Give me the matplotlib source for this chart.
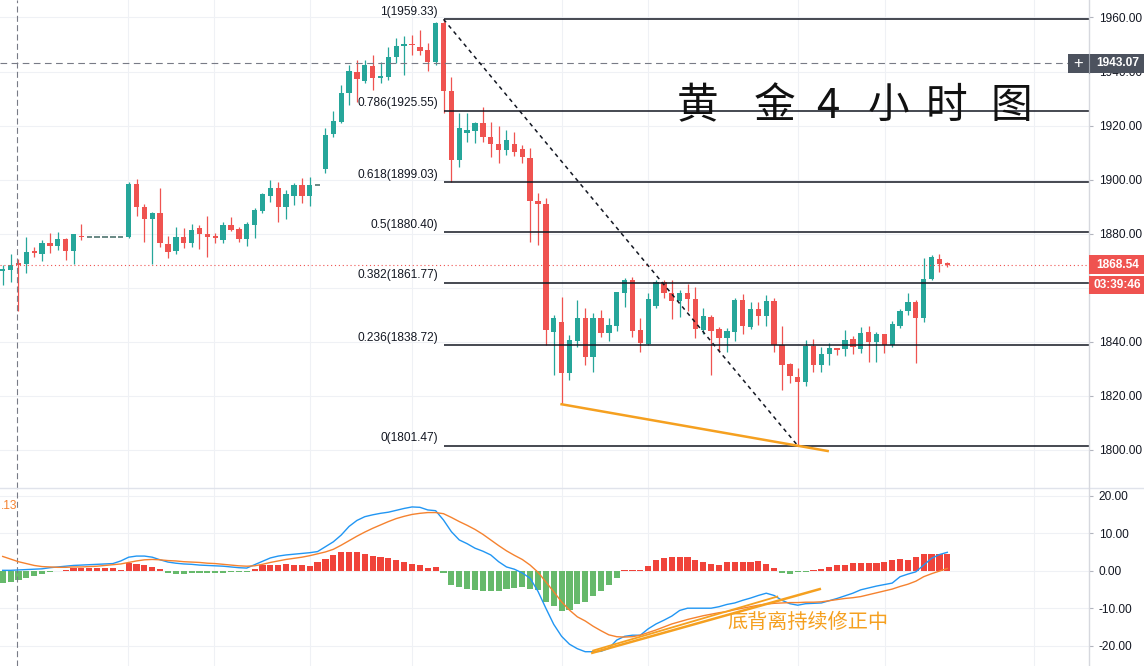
import matplotlib.pyplot as plt
from matplotlib.patches import Rectangle
from matplotlib.lines import Line2D
from matplotlib.ticker import FuncFormatter, FormatStrFormatter
from matplotlib.transforms import blended_transform_factory

plt.rcParams['font.family'] = ['Liberation Sans', 'Noto Sans CJK SC', 'DejaVu Sans']

# ---- 4h gold candles ----
opens = [1866.0, 1866.4, 1869.0, 1868.6, 1873.5, 1872.3, 1876.6, 1875.5, 1877.9, 1873.7,
         1879.2, 1878.6, 1878.6, 1878.6, 1878.6, 1878.6, 1878.8, 1898.3, 1890.0, 1885.3,
         1887.5, 1876.3, 1873.5, 1878.6, 1876.6, 1881.9, 1879.7, 1879.1, 1877.6, 1883.2,
         1881.7, 1878.0, 1883.2, 1888.5, 1893.9, 1896.8, 1890.0, 1894.0, 1897.9, 1894.0,
         1897.9, 1903.8, 1916.8, 1921.4, 1931.9, 1939.7, 1936.6, 1942.0, 1937.5, 1938.1,
         1945.5, 1949.4, 1950.1, 1948.9, 1948.0, 1943.6, 1958.1, 1932.9, 1907.2, 1917.3,
         1918.1, 1920.8, 1915.6, 1913.2, 1911.0, 1913.2, 1911.2, 1907.9, 1891.9, 1890.8,
         1843.7, 1847.4, 1828.5, 1840.3, 1848.6, 1834.4, 1848.6, 1843.1, 1845.9, 1858.1,
         1862.8, 1844.3, 1839.1, 1853.3, 1862.2, 1858.1, 1855.1, 1857.9, 1855.8, 1844.3,
         1849.2, 1844.7, 1841.2, 1843.7, 1855.4, 1845.5, 1852.0, 1849.6, 1855.1, 1838.7,
         1831.7, 1826.8, 1825.2, 1838.5, 1831.3, 1835.3, 1837.5, 1837.3, 1840.9, 1837.3,
         1843.4, 1840.0, 1842.8, 1838.7, 1845.8, 1851.4, 1854.8, 1848.6, 1863.1, 1870.5,
         1869.0]
highs = [1868.3, 1872.3, 1870.5, 1878.8, 1875.0, 1877.5, 1880.3, 1880.6, 1878.2, 1880.0,
         1883.5, 1878.6, 1878.6, 1878.6, 1878.6, 1878.6, 1899.2, 1900.1, 1890.8, 1888.0,
         1896.8, 1879.1, 1882.5, 1881.9, 1883.5, 1883.0, 1886.5, 1880.1, 1884.4, 1886.3,
         1882.5, 1884.4, 1889.4, 1895.1, 1899.8, 1899.0, 1896.1, 1898.8, 1900.5, 1900.8,
         1897.9, 1919.0, 1925.4, 1935.0, 1942.4, 1944.3, 1944.3, 1946.1, 1943.6, 1949.2,
         1952.3, 1953.1, 1953.5, 1955.4, 1950.4, 1958.3, 1959.33, 1938.1, 1924.5, 1924.8,
         1921.4, 1927.0, 1921.4, 1919.8, 1918.3, 1917.7, 1912.8, 1911.6, 1894.9, 1893.1,
         1849.9, 1856.6, 1842.4, 1855.4, 1852.3, 1850.5, 1851.7, 1848.6, 1858.5, 1863.4,
         1864.0, 1848.6, 1857.9, 1862.8, 1862.8, 1862.8, 1859.1, 1861.3, 1860.1, 1852.3,
         1849.9, 1845.5, 1844.9, 1856.0, 1857.6, 1854.6, 1854.6, 1857.3, 1856.0, 1845.8,
         1832.2, 1830.1, 1840.6, 1840.9, 1838.1, 1839.4, 1837.6, 1844.3, 1842.1, 1845.5,
         1845.8, 1843.7, 1842.8, 1847.6, 1851.9, 1857.9, 1855.4, 1870.8, 1872.1, 1872.3,
         1869.6]
lows = [1861.0, 1862.0, 1851.5, 1865.3, 1871.2, 1870.0, 1872.9, 1874.0, 1870.2, 1868.7,
        1877.6, 1878.6, 1878.6, 1878.6, 1878.6, 1878.6, 1878.2, 1886.6, 1877.0, 1868.6,
        1875.2, 1870.8, 1872.4, 1874.8, 1875.2, 1874.2, 1871.4, 1876.4, 1876.6, 1880.9,
        1877.0, 1875.4, 1878.3, 1887.7, 1891.8, 1884.4, 1885.5, 1890.6, 1891.4, 1890.2,
        1897.9, 1902.3, 1915.8, 1920.8, 1927.6, 1928.8, 1935.6, 1933.2, 1935.6, 1936.8,
        1943.0, 1938.7, 1946.1, 1946.1, 1940.3, 1942.4, 1924.5, 1899.2, 1904.8, 1914.0,
        1913.6, 1914.0, 1908.5, 1906.2, 1909.1, 1908.7, 1906.0, 1877.0, 1875.7, 1838.7,
        1827.6, 1816.8, 1825.8, 1838.1, 1831.3, 1828.9, 1841.6, 1840.3, 1844.0, 1852.9,
        1841.8, 1836.3, 1838.7, 1852.3, 1856.0, 1848.3, 1849.2, 1851.4, 1841.2, 1842.8,
        1827.6, 1836.3, 1836.3, 1840.3, 1842.8, 1844.6, 1846.2, 1845.8, 1836.3, 1822.1,
        1824.8, 1801.47, 1823.6, 1828.9, 1828.9, 1831.3, 1835.0, 1834.7, 1835.4, 1835.9,
        1832.6, 1832.6, 1835.9, 1838.1, 1844.9, 1849.9, 1832.2, 1847.1, 1862.8, 1865.9,
        1867.7]
closes = [1866.8, 1868.5, 1868.2, 1873.3, 1872.8, 1876.4, 1875.5, 1877.9, 1873.7, 1879.8,
          1878.6, 1878.6, 1878.6, 1878.6, 1878.6, 1878.6, 1898.3, 1890.0, 1885.3, 1887.7,
          1876.4, 1873.0, 1878.6, 1876.6, 1881.5, 1879.7, 1878.6, 1878.2, 1883.2, 1881.3,
          1878.0, 1883.5, 1888.7, 1894.6, 1896.8, 1890.0, 1894.6, 1897.9, 1894.0, 1897.9,
          1897.9, 1916.5, 1921.7, 1932.2, 1940.2, 1937.1, 1942.4, 1937.5, 1938.3, 1945.5,
          1949.4, 1950.2, 1949.7, 1947.7, 1943.6, 1958.1, 1932.9, 1907.2, 1919.0, 1918.3,
          1920.8, 1915.6, 1913.0, 1911.0, 1914.6, 1910.3, 1908.2, 1891.9, 1890.8, 1844.3,
          1848.6, 1828.5, 1840.6, 1848.6, 1834.2, 1848.6, 1843.1, 1846.1, 1858.2, 1862.8,
          1844.0, 1839.4, 1855.8, 1862.2, 1858.1, 1855.1, 1858.1, 1855.8, 1844.7, 1849.5,
          1844.0, 1841.2, 1843.9, 1855.4, 1845.9, 1852.0, 1849.6, 1855.1, 1838.7, 1831.3,
          1827.3, 1825.2, 1838.5, 1831.3, 1835.4, 1837.5, 1836.9, 1840.6, 1837.9, 1843.1,
          1840.0, 1842.8, 1838.7, 1846.5, 1851.3, 1854.6, 1848.9, 1863.1, 1871.2, 1868.7,
          1868.54]

# ---- MACD panel ----
macd_line = [0.1, 0.1, 0.2, 0.3, 0.4, 0.5, 0.8, 1.0, 1.2, 1.4,
             1.5, 1.6, 1.7, 1.8, 1.9, 2.6, 3.6, 3.9, 3.9, 3.6,
             2.9, 2.3, 2.0, 1.8, 1.7, 1.5, 1.4, 1.3, 1.2, 1.0,
             0.8, 0.7, 1.6, 2.5, 3.4, 3.9, 4.2, 4.4, 4.6, 4.8,
             5.1, 6.4, 7.7, 9.5, 11.8, 13.4, 14.4, 14.9, 15.3, 15.6,
             16.1, 16.6, 17.0, 16.9, 16.2, 16.0, 13.5, 10.4, 8.2, 7.2,
             6.0, 5.2, 4.2, 2.4, 1.0, 0.4, -0.6, -2.0, -5.5, -10.0,
             -14.3, -17.5, -19.6, -20.8, -21.6, -21.6, -21.5, -20.7, -18.5, -17.5,
             -17.2, -17.2, -15.5, -14.2, -13.2, -12.1, -10.6, -10.0, -10.0, -10.0,
             -10.0, -9.6, -9.0, -8.6, -7.9, -7.3, -6.6, -6.0, -6.6, -7.9,
             -8.8, -9.2, -8.8, -8.7, -8.6, -8.0, -7.4, -6.7, -6.0, -5.1,
             -4.6, -4.1, -3.7, -3.3, -1.6, -0.9, -0.3, 1.5, 3.3, 4.3,
             4.9]
signal_line = [3.8, 3.1, 2.4, 1.9, 1.4, 1.1, 1.0, 0.9, 0.9, 1.0,
               1.0, 1.1, 1.2, 1.4, 1.6, 1.8, 2.2, 2.6, 2.9, 3.0,
               2.9, 2.7, 2.6, 2.4, 2.3, 2.2, 2.0, 1.9, 1.7, 1.5,
               1.3, 1.2, 1.3, 1.7, 2.2, 2.6, 3.0, 3.3, 3.6, 4.0,
               4.5, 5.0, 5.7, 6.8, 8.0, 9.2, 10.3, 11.3, 12.2, 13.1,
               13.9, 14.5, 15.0, 15.3, 15.5, 15.5, 15.2, 14.2, 13.1, 12.1,
               11.0, 9.7, 8.2, 6.7, 5.3, 4.1, 3.0, 1.5, -0.4, -3.0,
               -5.6, -8.3, -10.5, -12.3, -13.4, -14.8, -16.0, -17.1, -17.6, -17.7,
               -17.6, -17.2, -16.5, -15.8, -15.0, -14.2, -13.6, -13.0, -12.5, -12.0,
               -11.6, -11.2, -10.9, -10.4, -10.0, -9.6, -9.2, -8.9, -8.7, -8.6,
               -8.5, -8.5, -8.4, -8.4, -8.3, -8.0, -7.7, -7.4, -7.2, -6.9,
               -6.4, -5.9, -5.4, -4.9, -4.2, -3.6, -2.8, -1.6, -0.8, -0.1,
               0.6]
hist = [-3.4, -2.9, -2.5, -1.9, -1.3, -0.8, -0.4, -0.1, 0.1, 0.6,
        0.6, 0.6, 0.6, 0.6, 0.6, 0.3, 2.0, 1.7, 1.4, 1.0,
        0.4, -0.5, -0.8, -1.0, -0.7, -0.7, -0.7, -0.7, -0.5, -0.4,
        -0.4, -0.3, 0.4, 1.4, 1.4, 1.4, 1.7, 1.5, 1.4, 1.2,
        2.3, 3.1, 4.2, 4.9, 4.9, 4.9, 4.4, 3.9, 3.6, 3.3,
        2.8, 2.2, 1.8, 1.4, 0.8, 0.9, -0.7, -3.8, -4.4, -5.0,
        -5.2, -5.4, -5.4, -5.4, -4.8, -4.5, -4.3, -5.0, -5.2, -8.3,
        -9.3, -10.7, -10.6, -9.0, -8.4, -6.7, -5.3, -3.7, -1.9, 0.3,
        0.3, 0.2, 1.2, 2.8, 3.3, 3.6, 3.7, 3.7, 2.8, 2.4,
        1.8, 1.5, 2.2, 2.2, 2.3, 2.3, 2.6, 1.8, 0.6, -0.5,
        -0.8, -0.4, -0.3, 0.2, 0.5, 0.9, 1.4, 1.4, 2.0, 2.0,
        2.0, 2.0, 2.3, 2.8, 3.1, 2.8, 3.6, 4.4, 4.4, 4.4,
        4.4]
macd_corner = '.13'

# ---- fibonacci / annotations ----
fib_ratios = [1, 0.786, 0.618, 0.5, 0.382, 0.236, 0]
swing_high, swing_high_idx = 1959.33, 56
swing_low, swing_low_idx = 1801.47, 101
last_price = 1868.54
countdown = '03:39:46'
cross_price = 1943.07
crosshair_idx = 1.82
div_price_x = [71, 104.8]
div_price_y = [1816.8, 1799.5]
div_macd_x = [74.9, 103.8]
div_macd_y = [-21.9, -4.9]
div_macd2_x = [75.0, 98.4]
div_macd2_y = [-21.3, -6.9]
div_text = '底背离持续修正中'
title_chars = ['黄', '金', '4', '小', '时', '图']

price_ticks = [1800, 1820, 1840, 1860, 1880, 1900, 1920, 1940, 1960]
hidden_price_labels = [1860]   # sits under the countdown tag
macd_ticks = [-20, -10, 0, 10, 20]
vgrid_idx = [15.9, 26.8, 39.0, 52.0, 71.05, 82.0, 101.0, 112.1, 131.0]

UP, DOWN, FLAT = '#26a69a', '#ef5350', '#4f7470'
HIST_UP, HIST_DN = '#f0433a', '#66b96b'
ORANGE = '#f5a020'
GRID = '#eff1f5'
INK = '#131722'

W, H = 1144, 666
fig = plt.figure(figsize=(W / 100, H / 100), dpi=100)
sep = 178 / H
plot_w = 1089 / W
ax = fig.add_axes([0, sep, plot_w, 1 - sep])
axm = fig.add_axes([0, 0, plot_w, sep])

xmin, xmax = -0.343, 138.0
ymin, ymax = 1785.8, 1966.475
ax.set_xlim(xmin, xmax)
ax.set_ylim(ymin, ymax)
axm.set_xlim(xmin, xmax)
axm.set_ylim(-25.41, 22.05)

idx = list(range(len(closes)))

# candles
flat = [i for i in idx if highs[i] == lows[i]]
real = [i for i in idx if highs[i] != lows[i]]
cols = [UP if closes[i] > opens[i] else DOWN for i in real]
ax.vlines(real, [lows[i] for i in real], [highs[i] for i in real], colors=cols, lw=0.9, zorder=2)
ax.bar(real, [max(abs(closes[i] - opens[i]), 0.35) for i in real],
       bottom=[min(opens[i], closes[i]) for i in real], width=0.68, color=cols, lw=0, zorder=2)
ax.hlines([closes[i] for i in flat], [i - 0.34 for i in flat], [i + 0.34 for i in flat],
          colors=FLAT, lw=1.2, zorder=2)

# fibonacci retracement
fib_levels = [swing_low + r * (swing_high - swing_low) for r in fib_ratios]
ax.hlines(fib_levels, swing_high_idx, xmax, color=INK, lw=1.1, zorder=3)
for r, lv in zip(fib_ratios, fib_levels):
    ax.annotate(f'{r:g}({lv:.2f})', (swing_high_idx, lv), xytext=(-5.5, 7.5),
                textcoords='offset pixels', ha='right', va='center', fontsize=8.6, color=INK)
ax.plot([swing_high_idx, swing_low_idx], [swing_high, swing_low], color=INK, lw=1.1,
        dashes=(2.6, 2.6), zorder=3)
ax.plot(div_price_x, div_price_y, color=ORANGE, lw=1.8, zorder=3)

# crosshair and price lines
ax.axhline(cross_price, color='#787b86', lw=0.8, dashes=(6, 4))
ax.axhline(last_price, color=DOWN, lw=0.8, dashes=(1, 2.5))
for a in (ax, axm):
    a.axvline(crosshair_idx, color='#787b86', lw=0.8, dashes=(5.4, 3))

# title
title_px = [698, 775, 828, 888, 946.7, 1011.7]
for ch, xp in zip(title_chars, title_px):
    fig.text(xp / W, 1 - 106.5 / H, ch, ha='center', va='center', fontsize=30,
             color='#111111', family=['Noto Sans CJK SC', 'DejaVu Sans'])

# MACD
axm.bar(idx, hist, width=0.78, color=[HIST_UP if v >= 0 else HIST_DN for v in hist], lw=0)
axm.plot(idx, macd_line, color='#2196f3', lw=1.0)
axm.plot(idx, signal_line, color='#f5822f', lw=1.0)
axm.plot(div_macd_x, div_macd_y, color=ORANGE, lw=1.8)
axm.plot(div_macd2_x, div_macd2_y, color=ORANGE, lw=1.3)
axm.text(102.3, -13.7, div_text, color=ORANGE, fontsize=14.5, ha='center', va='center',
         family=['Noto Sans CJK SC', 'DejaVu Sans'])
fig.text(1 / W, 1 - 506 / H, macd_corner, color='#f5822f', fontsize=8.6, va='center')

# axes styling
for a, ticks in ((ax, price_ticks), (axm, macd_ticks)):
    a.set_yticks(ticks)
    a.set_xticks(vgrid_idx)
    a.yaxis.tick_right()
    a.tick_params(axis='y', length=3, color='#b2b5be', pad=4, labelsize=8.6, labelcolor=INK)
    a.tick_params(axis='x', length=0, labelbottom=False)
    a.grid(True, color=GRID, lw=0.8)
    a.set_axisbelow(True)
    for s in a.spines.values():
        s.set_visible(False)
ax.yaxis.set_major_formatter(FuncFormatter(
    lambda v, pos: '' if round(v) in hidden_price_labels else f'{v:.2f}'))
axm.yaxis.set_major_formatter(FormatStrFormatter('%.2f'))

fig.add_artist(Line2D([0, 1], [sep, sep], transform=fig.transFigure, color='#e0e3eb', lw=1))
fig.add_artist(Line2D([plot_w, plot_w], [0, 1], transform=fig.transFigure, color='#d6d8de', lw=1))

# price tags on the right axis
tr = blended_transform_factory(fig.transFigure, ax.transData)
ppu = (1 - sep) * H / (ymax - ymin)
fig.add_artist(Rectangle((1068 / W, cross_price - 9.5 / ppu), 80 / W, 19 / ppu, transform=tr,
                         fc='#4c525e', ec='none', zorder=5))
fig.add_artist(Line2D([plot_w, plot_w], [cross_price - 9.5 / ppu, cross_price + 9.5 / ppu],
                      transform=tr, color='#9aa0aa', lw=0.8, zorder=6))
fig.text(1078.5 / W, cross_price, '+', transform=tr, color='white', fontsize=12,
         ha='center', va='center', zorder=6)
fig.text(1118 / W, cross_price, f'{cross_price:.2f}', transform=tr, color='white',
         fontsize=8.6, fontweight='bold', ha='center', va='center', zorder=6)

fig.add_artist(Rectangle((plot_w, last_price - 9.5 / ppu), 60 / W, 19 / ppu, transform=tr,
                         fc=DOWN, ec='none', zorder=5))
fig.text(1118 / W, last_price, f'{last_price:.2f}', transform=tr, color='white',
         fontsize=8.6, fontweight='bold', ha='center', va='center', zorder=6)
cd_y = last_price - 20.5 / ppu
fig.add_artist(Rectangle((plot_w, cd_y - 9 / ppu), 60 / W, 18 / ppu, transform=tr,
                         fc=DOWN, ec='none', zorder=5))
fig.text(1117 / W, cd_y, countdown, transform=tr, color='white',
         fontsize=8.6, fontweight='bold', ha='center', va='center', zorder=6)

fig.savefig('out.png', dpi=100)
